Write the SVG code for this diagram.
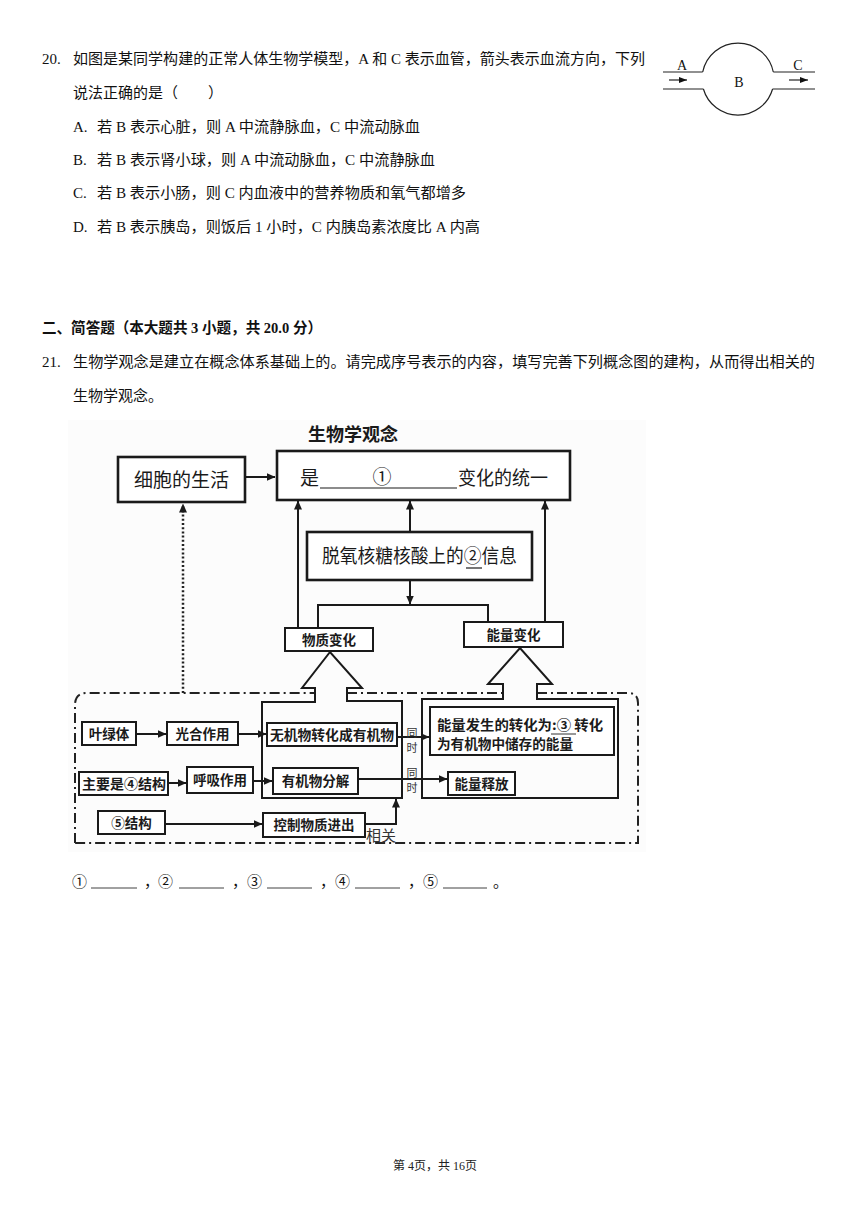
<svg xmlns="http://www.w3.org/2000/svg" width="860" height="1216" viewBox="0 0 860 1216">
<defs>
<style>
.q{font-family:"Liberation Serif","Noto Sans CJK SC",serif;font-size:15px;fill:#111}
.qb{font-family:"Liberation Serif","Noto Sans CJK SC",serif;font-size:15px;font-weight:bold;fill:#111}
.fig{font-family:"Liberation Serif",serif;font-size:14px;fill:#111}
.ln{stroke:#1a1a1a;stroke-width:2;fill:none}
.thin{stroke:#222;stroke-width:1.2;fill:none}
.bx{fill:#fff;stroke:#1a1a1a;stroke-width:2}
.bxk{fill:#fff;stroke:#1a1a1a;stroke-width:2.6}
.big{font-family:"Noto Sans CJK SC",sans-serif;font-size:19px;fill:#1a1a1a}
.t{font-family:"Noto Sans CJK SC",sans-serif;font-size:13.5px;font-weight:bold;fill:#1a1a1a}
.sm{font-family:"Noto Sans CJK SC",sans-serif;font-size:11px;fill:#333}
.dd{stroke:#222;stroke-width:2;fill:none;stroke-dasharray:10 4 2 4}
</style>
<marker id="ah" markerUnits="userSpaceOnUse" markerWidth="9" markerHeight="8" refX="8.5" refY="4" orient="auto"><path d="M0,0 L9,4 L0,8 z" fill="#1a1a1a"/></marker>
<marker id="as" markerUnits="userSpaceOnUse" markerWidth="8" markerHeight="6" refX="8" refY="3" orient="auto"><path d="M0,0 L8,3 L0,6 z" fill="#111"/></marker>
</defs>
<rect width="860" height="1216" fill="#fff"/>

<!-- Question 20 text -->
<g id="q20">
<text class="q" x="42" y="64">20.</text>
<text class="q" x="73" y="64" textLength="572" lengthAdjust="spacingAndGlyphs">如图是某同学构建的正常人体生物学模型，A 和 C 表示血管，箭头表示血流方向，下列</text>
<text class="q" x="73" y="98">说法正确的是（　　）</text>
<text class="q" x="73" y="132" font-size="16">A.</text>
<text class="q" x="97" y="132" textLength="323" lengthAdjust="spacingAndGlyphs">若 B 表示心脏，则 A 中流静脉血，C 中流动脉血</text>
<text class="q" x="73" y="165" font-size="16">B.</text>
<text class="q" x="97" y="165" textLength="338" lengthAdjust="spacingAndGlyphs">若 B 表示肾小球，则 A 中流动脉血，C 中流静脉血</text>
<text class="q" x="73" y="198" font-size="16">C.</text>
<text class="q" x="97" y="198" textLength="369" lengthAdjust="spacingAndGlyphs">若 B 表示小肠，则 C 内血液中的营养物质和氧气都增多</text>
<text class="q" x="73" y="232" font-size="16">D.</text>
<text class="q" x="97" y="232" textLength="383" lengthAdjust="spacingAndGlyphs">若 B 表示胰岛，则饭后 1 小时，C 内胰岛素浓度比 A 内高</text>
</g>

<!-- small blood vessel figure -->
<g id="vessel">
<path class="thin" d="M702.7,72 A36,36 0 0 1 773.3,72"/>
<path class="thin" d="M703.4,89 A36,36 0 0 0 772.6,89"/>
<line class="thin" x1="663" y1="72" x2="702.7" y2="72"/>
<line class="thin" x1="663" y1="89" x2="703.4" y2="89"/>
<line class="thin" x1="773.3" y1="72" x2="815" y2="72"/>
<line class="thin" x1="772.6" y1="89" x2="815" y2="89"/>
<line class="thin" x1="669" y1="80" x2="687" y2="80" marker-end="url(#as)"/>
<line class="thin" x1="789" y1="80" x2="808" y2="80" marker-end="url(#as)"/>
<text class="fig" x="682" y="70" text-anchor="middle">A</text>
<text class="fig" x="798" y="70" text-anchor="middle">C</text>
<text class="fig" x="739" y="87" text-anchor="middle">B</text>
</g>

<!-- Section 2 -->
<g id="sec2">
<text class="qb" x="42" y="333" textLength="280" lengthAdjust="spacingAndGlyphs">二、简答题（本大题共 3 小题，共 20.0 分）</text>
<text class="q" x="42" y="367">21.</text>
<text class="q" x="73" y="367" textLength="742" lengthAdjust="spacingAndGlyphs">生物学观念是建立在概念体系基础上的。请完成序号表示的内容，填写完善下列概念图的建构，从而得出相关的</text>
<text class="q" x="73" y="401">生物学观念。</text>
</g>

<!-- concept map -->
<rect x="68" y="420" width="578" height="432" fill="#fcfcfc"/>

<g id="title"><text x="353" y="441" text-anchor="middle" font-family="Noto Sans CJK SC, sans-serif" font-size="18" font-weight="bold" fill="#1a1a1a">生物学观念</text></g>

<g id="connectors">
<line class="ln" x1="245" y1="477" x2="275" y2="477" marker-end="url(#ah)"/>
<line x1="183" y1="693" x2="183" y2="504" stroke="#222" stroke-width="2.5" stroke-dasharray="2 2.2" marker-end="url(#ah)"/>
<line class="ln" x1="298" y1="628" x2="298" y2="501" marker-end="url(#ah)"/>
<line class="ln" x1="410" y1="532" x2="410" y2="501" marker-end="url(#ah)"/>
<line class="ln" x1="545" y1="622" x2="545" y2="501" marker-end="url(#ah)"/>
<line class="ln" x1="410" y1="580" x2="410" y2="604" marker-end="url(#ah)"/>
<path class="ln" d="M318,628 L318,605 L488,605 L488,622"/>
<line class="ln" x1="136" y1="734" x2="166" y2="734" marker-end="url(#ah)"/>
<line class="ln" x1="238" y1="734" x2="266" y2="734" marker-end="url(#ah)"/>
<line class="ln" x1="168" y1="783" x2="186" y2="783" marker-end="url(#ah)"/>
<line class="ln" x1="253" y1="781" x2="272" y2="781" marker-end="url(#ah)"/>
<line class="ln" x1="165" y1="824" x2="262" y2="824" marker-end="url(#ah)"/>
<line class="ln" x1="397" y1="737" x2="429" y2="737" marker-end="url(#ah)"/>
<line class="ln" x1="358" y1="779" x2="447" y2="779" marker-end="url(#ah)"/>
<path class="ln" d="M365,824 L396,824 L396,799" marker-end="url(#ah)"/>
<path class="dd" d="M75,843 L75,705 Q75,693 87,693 L315,693 M347,693 L503,693 M537,693 L628,693 Q638,693 638,703 L638,843 L75,843"/>
</g>

<g id="n_cell"><rect class="bxk" x="118" y="457" width="127" height="45"/><text class="big" x="181.5" y="487" text-anchor="middle">细胞的生活</text></g>

<g id="n_unity"><rect class="bxk" x="277" y="451" width="293" height="49"/>
<text class="big" x="300" y="485">是</text>
<line x1="320" y1="488" x2="457" y2="488" stroke="#1a1a1a" stroke-width="1.2"/>
<text class="big" x="382" y="484" text-anchor="middle">①</text>
<text class="big" x="458" y="485" textLength="90" lengthAdjust="spacingAndGlyphs">变化的统一</text></g>

<g id="n_dna"><rect class="bxk" x="307" y="532" width="225" height="48"/>
<text class="big" x="322" y="563" font-size="18" textLength="195" lengthAdjust="spacingAndGlyphs">脱氧核糖核酸上的②信息</text>
<line x1="466" y1="568" x2="482" y2="568" stroke="#1a1a1a" stroke-width="1.2"/></g>

<g id="n_matter"><rect class="bx" x="285" y="628" width="88" height="23"/><text class="t" x="329" y="645" text-anchor="middle">物质变化</text></g>
<g id="n_energy"><rect class="bx" x="464" y="622" width="99" height="25"/><text class="t" x="513.5" y="640" text-anchor="middle">能量变化</text></g>

<g id="n_matter_block"><path class="ln" d="M262,798 L262,702 L315,702 L315,688 L302,688 L330,652 L362,688 L347,688 L347,701 L402,701 L402,798 Z" fill="none"/></g>
<g id="n_energy_block"><path class="ln" d="M422,798 L422,699 L503,699 L503,684 L488,684 L520,648 L552,684 L537,684 L537,699 L618,699 L618,798 Z" fill="none"/></g>

<g id="n_ye"><rect class="bx" x="82" y="722" width="54" height="23"/><text class="t" x="109" y="739" text-anchor="middle">叶绿体</text></g>
<g id="n_guang"><rect class="bx" x="167" y="722" width="71" height="23"/><text class="t" x="202.5" y="739" text-anchor="middle">光合作用</text></g>
<g id="n_wuji"><rect class="bx" x="267" y="723" width="130" height="23"/><text class="t" x="270" y="740" textLength="124" lengthAdjust="spacingAndGlyphs">无机物转化成有机物</text></g>
<g id="n_zhuyao"><rect class="bx" x="79" y="772" width="89" height="23"/><text class="t" x="82" y="789" textLength="84" lengthAdjust="spacingAndGlyphs">主要是④结构</text></g>
<g id="n_huxi"><rect class="bx" x="187" y="767" width="66" height="26"/><text class="t" x="220" y="785" text-anchor="middle">呼吸作用</text></g>
<g id="n_fenjie"><rect class="bx" x="273" y="768" width="85" height="26"/><text class="t" x="315.5" y="786" text-anchor="middle">有机物分解</text></g>
<g id="n_wu"><rect class="bx" x="98" y="811" width="67" height="23"/><text class="t" x="131.5" y="828" text-anchor="middle" font-size="15">⑤结构</text></g>
<g id="n_kongzhi"><rect class="bx" x="263" y="813" width="102" height="24"/><text class="t" x="314" y="830" text-anchor="middle">控制物质进出</text></g>
<g id="n_xiangguan"><text x="366" y="841" font-family="Noto Sans CJK SC, sans-serif" font-size="15" fill="#333">相关</text></g>
<g id="n_tongshi"><text class="sm" x="412" y="737" text-anchor="middle">同</text><text class="sm" x="412" y="752" text-anchor="middle">时</text><text class="sm" x="412" y="777" text-anchor="middle">同</text><text class="sm" x="412" y="792" text-anchor="middle">时</text></g>
<g id="n_zhuanhua"><rect class="bx" x="430" y="707" width="184" height="48"/>
<text class="t" x="437" y="730" textLength="166" lengthAdjust="spacingAndGlyphs">能量发生的转化为:③ 转化</text>
<line x1="551" y1="734" x2="576" y2="734" stroke="#333" stroke-width="1"/>
<text class="t" x="437" y="749" textLength="136" lengthAdjust="spacingAndGlyphs">为有机物中储存的能量</text></g>
<g id="n_shifang"><rect class="bx" x="448" y="772" width="67" height="23"/><text class="t" x="481.5" y="789" text-anchor="middle">能量释放</text></g>

<!-- answer blanks -->
<g id="answers">
<text class="q" x="72" y="887" font-size="16">①</text><line x1="91" y1="888" x2="137" y2="888" stroke="#111" stroke-width="0.8"/><text class="q" x="144" y="887">，</text>
<text class="q" x="158" y="887" font-size="16">②</text><line x1="179" y1="888" x2="224" y2="888" stroke="#111" stroke-width="0.8"/><text class="q" x="232" y="887">，</text>
<text class="q" x="247" y="887" font-size="16">③</text><line x1="267" y1="888" x2="312" y2="888" stroke="#111" stroke-width="0.8"/><text class="q" x="320" y="887">，</text>
<text class="q" x="335" y="887" font-size="16">④</text><line x1="355" y1="888" x2="400" y2="888" stroke="#111" stroke-width="0.8"/><text class="q" x="408" y="887">，</text>
<text class="q" x="423" y="887" font-size="16">⑤</text><line x1="443" y1="888" x2="487" y2="888" stroke="#111" stroke-width="0.8"/><text class="q" x="493" y="887">。</text>
</g>

<g id="footer"><text x="435" y="1170" text-anchor="middle" font-family="Liberation Serif, Noto Sans CJK SC, serif" font-size="12" fill="#222">第 4页，共 16页</text></g>
</svg>
